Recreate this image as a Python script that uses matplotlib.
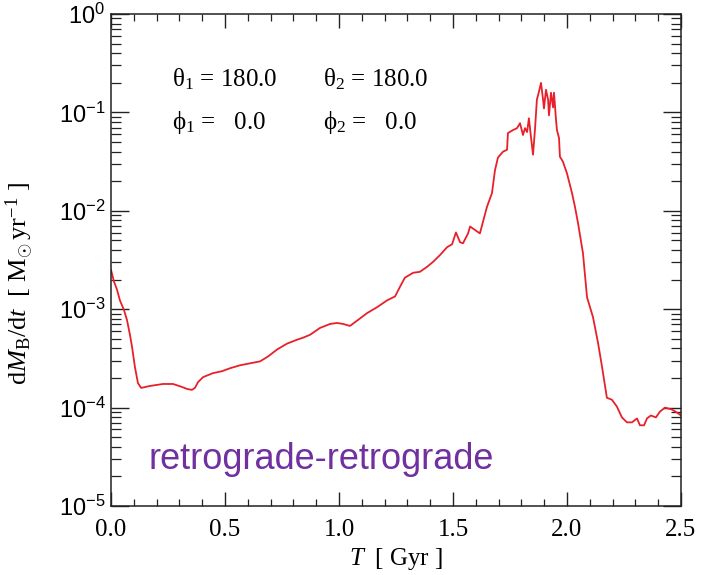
import matplotlib
matplotlib.use('Agg')
import matplotlib.pyplot as plt
from matplotlib.ticker import FixedLocator, FixedFormatter, MultipleLocator, FormatStrFormatter

plt.rcParams['mathtext.fontset'] = 'custom'
plt.rcParams['mathtext.rm'] = 'Liberation Serif'
plt.rcParams['mathtext.it'] = 'Liberation Serif:italic'
plt.rcParams['mathtext.sf'] = 'Liberation Sans'

# accretion rate history: time in Gyr, log10 of rate in Msun/yr
time_gyr = [0.000, 0.013, 0.026, 0.039, 0.057, 0.070, 0.083, 0.092, 0.105, 0.118,
            0.132, 0.171, 0.228, 0.272, 0.311, 0.333, 0.355, 0.368, 0.382, 0.404,
            0.447, 0.487, 0.522, 0.566, 0.610, 0.654, 0.689, 0.728, 0.772, 0.816,
            0.842, 0.873, 0.917, 0.961, 0.991, 1.018, 1.048, 1.083, 1.123, 1.167,
            1.211, 1.246, 1.268, 1.289, 1.325, 1.355, 1.386, 1.412, 1.443, 1.474,
            1.496, 1.513, 1.531, 1.544, 1.566, 1.575, 1.618, 1.649, 1.671, 1.684,
            1.697, 1.719, 1.737, 1.741, 1.763, 1.781, 1.794, 1.807, 1.816, 1.825,
            1.833, 1.842, 1.851, 1.860, 1.868, 1.877, 1.886, 1.895, 1.899, 1.908,
            1.917, 1.921, 1.930, 1.939, 1.943, 1.952, 1.956, 1.965, 1.969, 1.982,
            2.000, 2.022, 2.035, 2.048, 2.070, 2.088, 2.114, 2.136, 2.154, 2.175,
            2.197, 2.219, 2.241, 2.263, 2.285, 2.307, 2.320, 2.338, 2.351, 2.368,
            2.390, 2.408, 2.430, 2.461, 2.482, 2.500]
log_rate = [-2.60, -2.72, -2.80, -2.91, -3.01, -3.11, -3.26, -3.38, -3.59, -3.75,
            -3.80, -3.78, -3.76, -3.76, -3.79, -3.81, -3.82, -3.80, -3.74, -3.69,
            -3.65, -3.63, -3.60, -3.57, -3.55, -3.53, -3.48, -3.41, -3.35, -3.31,
            -3.29, -3.26, -3.19, -3.15, -3.14, -3.15, -3.17, -3.11, -3.04, -2.98,
            -2.91, -2.87, -2.77, -2.68, -2.63, -2.62, -2.57, -2.52, -2.45, -2.37,
            -2.34, -2.22, -2.32, -2.33, -2.23, -2.16, -2.23, -1.96, -1.82, -1.59,
            -1.46, -1.40, -1.38, -1.21, -1.18, -1.16, -1.11, -1.23, -1.16, -1.20,
            -1.06, -1.25, -1.43, -1.16, -0.87, -0.79, -0.70, -0.87, -0.96, -0.77,
            -0.87, -1.03, -0.80, -0.95, -0.80, -1.08, -1.18, -1.26, -1.45, -1.50,
            -1.62, -1.82, -1.96, -2.12, -2.43, -2.88, -3.08, -3.34, -3.59, -3.90,
            -3.92, -3.99, -4.10, -4.15, -4.15, -4.11, -4.18, -4.18, -4.11, -4.08,
            -4.10, -4.04, -4.00, -4.02, -4.05, -4.08]
rate = [10 ** v for v in log_rate]

y_major = [1e-5, 1e-4, 1e-3, 1e-2, 1e-1, 1e0]
y_labels = [r'$\mathsf{10^{-5}}$', r'$\mathsf{10^{-4}}$', r'$\mathsf{10^{-3}}$',
            r'$\mathsf{10^{-2}}$', r'$\mathsf{10^{-1}}$', r'$\mathsf{10^{0}}$']

serif = ['Liberation Serif', 'DejaVu Serif']

fig = plt.figure(figsize=(7.04, 5.75), dpi=100)
ax = fig.add_axes([0.1577, 0.12, 0.8096, 0.8557])

ax.plot(time_gyr, rate, color='#e8202a', lw=1.3)

ax.set_yscale('log')
ax.set_xlim(0, 2.5)
ax.set_ylim(1e-5, 1)

ax.yaxis.set_major_locator(FixedLocator(y_major))
ax.yaxis.set_major_formatter(FixedFormatter(y_labels))
minor = [m * 10.0 ** e for e in range(-5, 0) for m in range(2, 10)]
ax.yaxis.set_minor_locator(FixedLocator(minor))
ax.yaxis.set_minor_formatter(FixedFormatter([''] * len(minor)))

ax.xaxis.set_major_locator(MultipleLocator(0.5))
ax.xaxis.set_minor_locator(MultipleLocator(0.1))
ax.xaxis.set_major_formatter(FormatStrFormatter('%.1f'))

ax.tick_params(which='both', direction='in', top=True, right=True, color='#222222')
ax.tick_params(axis='y', which='major', length=13, width=1.0, labelsize=17, pad=4)
ax.tick_params(axis='y', which='minor', length=7, width=0.9)
ax.tick_params(axis='x', which='major', length=10, width=1.0, labelsize=18, pad=9)
ax.tick_params(axis='x', which='minor', length=5, width=0.9)
for lab in ax.get_xticklabels():
    lab.set_family(serif)
for s in ax.spines.values():
    s.set_linewidth(1.1)
    s.set_color('#222222')

ax.set_xlabel(r'$T\ \ [\ \mathrm{Gyr}\ ]$', fontsize=18, labelpad=4)
ax.set_ylabel(r'$\mathrm{d}M_{\mathrm{B}}/\mathrm{d}t\ \ [\ \mathrm{M}_{\odot}\,\mathrm{yr}^{-1}\ ]$',
              fontsize=19)
ax.yaxis.set_label_coords(-0.132, 0.453)

# orientation angles of the two discs
ang = dict(transform=ax.transAxes, fontsize=18, family=serif)
ax.text(0.107, 0.852, 'θ$_1$ = 180.0', **ang)
ax.text(0.372, 0.852, 'θ$_2$ = 180.0', **ang)
ax.text(0.107, 0.767, 'ϕ$_1$ =   0.0', **ang)
ax.text(0.372, 0.767, 'ϕ$_2$ =   0.0', **ang)

ax.text(0.065, 0.075, 'retrograde-retrograde', transform=ax.transAxes,
        family='Liberation Sans', fontsize=26, color='#7030a0')

fig.savefig('out.png', dpi=100)
